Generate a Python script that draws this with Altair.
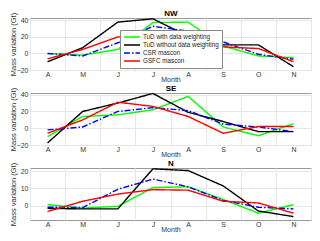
import altair as alt
import pandas as pd

months = ["Apr", "May", "Jun", "Jul", "Aug", "Sep", "Oct", "Nov"]
series = ["TuD with data weighting", "TuD without data weighting", "CSR mascon", "GSFC mascon"]
colors = ["#00ff00", "#000000", "#0000ff", "#ff0000"]
dashes = [[1, 0], [1, 0], [6, 2, 1.5, 2], [1, 0]]

# NW
nw_tud_w = [0, -2, 5, 37.5, 38, 9, -3, -5]
nw_tud_wo = [-10, 7, 38, 42, 21, 10.5, 10.5, -16]
nw_csr = [0, -3, 13, 33, 27, 14, -1, -7]
nw_gsfc = [-6.5, 5, 20, 23, 24, 8, 6, -10]
# SE
se_tud_w = [-10, 14, 16, 22, 38, 1.5, -9, 5.5]
se_tud_wo = [-17.5, 20, 30, 41.5, 19, 8, -4, -4]
se_csr = [-2, 1.5, 20, 24.5, 21, 5, 1.5, -4]
se_gsfc = [-6, 10, 31, 26, 14, -6, 2, 2]
# N
n_tud_w = [0.5, -1.5, -0.5, 10.5, 11, 3.5, -4.5, 0.5]
n_tud_wo = [-1.7, -2, -2, 21.5, 20.5, 11.5, -3.2, -6.5]
n_csr = [-1, -1.2, 9.5, 15.5, 11, 3, -1, -2]
n_gsfc = [-3.5, 2.5, 6.7, 9.3, 9, 2.5, 1.5, -4.5]

regions = {
    "NW": [nw_tud_w, nw_tud_wo, nw_csr, nw_gsfc],
    "SE": [se_tud_w, se_tud_wo, se_csr, se_gsfc],
    "N": [n_tud_w, n_tud_wo, n_csr, n_gsfc],
}

rows = []
for reg, vals in regions.items():
    for s, arr in zip(series, vals):
        for i, (m, v) in enumerate(zip(months, arr)):
            rows.append({"region": reg, "series": s, "month": m, "idx": i, "value": v})
df = pd.DataFrame(rows)

FONT = "Liberation Sans"
W, H = 281, 52
xscale = alt.Scale(domain=months, type="band", paddingInner=0, paddingOuter=0)


def panel(reg, ydom, yticks, legend):
    leg = None
    if legend:
        leg = alt.Legend(
            title=None, orient="none", legendX=90, legendY=12,
            fillColor="white", strokeColor="#888", padding=3,
            symbolType="stroke", symbolSize=256, symbolStrokeWidth=1.5,
            labelFontSize=6.3, labelFont=FONT, labelColor="#222",
            clipHeight=8, rowPadding=0, labelOffset=2, cornerRadius=0,
        )
    d = df[df.region == reg]
    lines = alt.Chart(d).mark_line(strokeWidth=1.4).encode(
        x=alt.X("month:N", bandPosition=0.5, scale=xscale,
                axis=alt.Axis(title="Month", orient="bottom", labelExpr="substring(datum.label,0,1)",
                              tickBand="extent", grid=True, ticks=False, labelAngle=0,
                              labelPadding=0, titlePadding=-1.5, titleFontSize=7, domain=False)),
        y=alt.Y("value:Q", scale=alt.Scale(domain=ydom, nice=False, zero=False),
                axis=alt.Axis(title="Mass variation (Gt)", values=yticks, grid=True, ticks=False,
                              labelPadding=2, titlePadding=2, minExtent=11, maxExtent=11,
                              domain=False)),
        color=alt.Color("series:N", scale=alt.Scale(domain=series, range=colors), legend=leg),
        strokeDash=alt.StrokeDash("series:N", scale=alt.Scale(domain=series, range=dashes), legend=leg),
        order="idx:Q",
    )
    top = alt.Chart(d).mark_rule(opacity=0).encode(
        x=alt.X("month:N", bandPosition=0.5, scale=xscale,
                axis=alt.Axis(title=reg, orient="top", labels=False, ticks=False, grid=False,
                              domain=False, titlePadding=1, titleFontSize=8,
                              titleFontWeight="bold", titleColor="#000")),
    )
    return alt.layer(lines, top).resolve_axis(x="independent").properties(width=W, height=H)


p1 = panel("NW", [-20, 43], [-20, 0, 20, 40], True)
p2 = panel("SE", [-20, 42], [-20, 0, 20, 40], False)
p3 = panel("N", [-8.5, 22], [0, 10, 20], False)

chart = alt.vconcat(p1, p2, p3, spacing=23, bounds="flush").resolve_scale(
    color="independent", strokeDash="independent"
).properties(padding=0, background="white").configure_view(
    stroke="#999", strokeWidth=1
).configure_axis(
    gridColor="#e6e6e6", labelFont=FONT, labelFontSize=7, labelColor="#333",
    titleFont=FONT, titleFontSize=7.5, titleFontWeight="normal", titleColor="#333",
)

chart.save("out.html", embed_options={"renderer": "svg", "actions": False})
